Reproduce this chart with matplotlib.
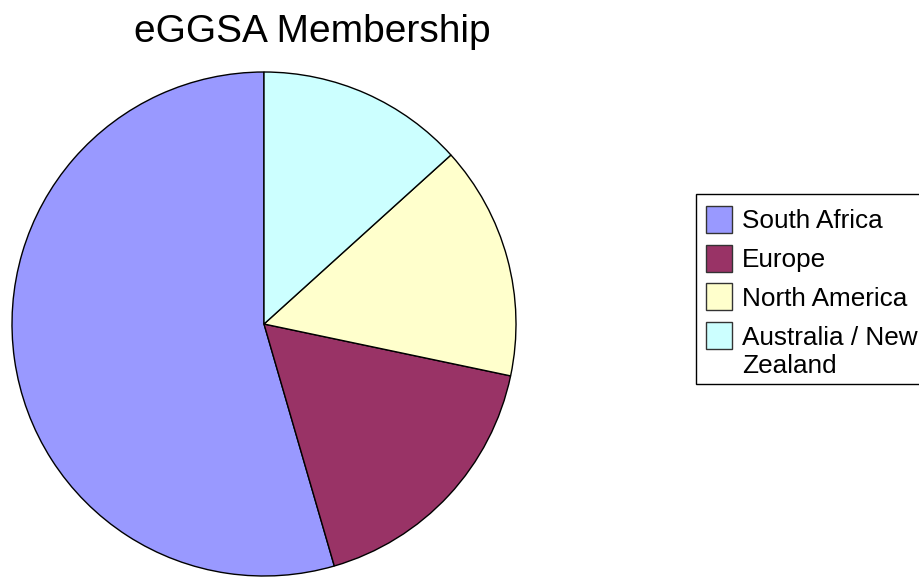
"""eGGSA 회원 분포 파이 차트 (Excel 스타일) → out.png"""
import matplotlib
matplotlib.use("Agg")
import matplotlib.pyplot as plt
from matplotlib.patches import Rectangle

# 지역별 회원 비율(%) — 그림에서 각도로 읽은 값
regions = ["South Africa", "Europe", "North America", "Australia / New\nZealand"]
shares = [54.5, 17.2, 15.0, 13.3]
colors = ["#9999FF", "#993366", "#FFFFCC", "#CCFFFF"]
title = "eGGSA Membership"

W, H = 920, 577
plt.rcParams["font.family"] = ["Liberation Sans", "DejaVu Sans"]

fig = plt.figure(figsize=(W / 100, H / 100), dpi=100)


def fx(px):
    return px / W


def fy(py):
    # 위쪽 기준 픽셀 → figure 비율
    return 1 - py / H


# 파이: 중심 (264, 324), 반지름 252 px
cx, cy, r = 264, 324, 252
ax = fig.add_axes([fx(cx - r), fy(cy + r), 2 * r / W, 2 * r / H])
ax.pie(shares, colors=colors, startangle=90, counterclock=True,
       wedgeprops=dict(edgecolor="black", linewidth=1.0))
ax.set_xlim(-1, 1)
ax.set_ylim(-1, 1)
ax.set_aspect("equal")
ax.axis("off")
for p in ax.patches:
    p.set_clip_on(False)

fig.text(fx(312), fy(42), title, ha="center", va="baseline", fontsize=28)

# 범례 (수동 배치, 오른쪽은 그림 밖으로 잘림)
box_l, box_t, box_b = 696, 194, 384
fig.patches.append(Rectangle((fx(box_l), fy(box_b)), fx(300), (box_b - box_t) / H,
                             transform=fig.transFigure, facecolor="white",
                             edgecolor="black", linewidth=1.0))
sw_x, sw_w, sw_h = 706, 26, 27
first_top, pitch = 206, 38.6
line_px = 28.6   # 줄바꿈 간격(px)
for i, (lab, col) in enumerate(zip(regions, colors)):
    top = first_top + i * pitch
    fig.patches.append(Rectangle((fx(sw_x), fy(top + sw_h)), sw_w / W, sw_h / H,
                                 transform=fig.transFigure, facecolor=col,
                                 edgecolor="#333333", linewidth=1.0))
    # baseline 정렬은 마지막 줄 기준 → 줄 수만큼 내림
    base = top + sw_h / 2 + 9 + lab.count("\n") * line_px
    fig.text(fx(742), fy(base), lab, ha="left", va="baseline",
             fontsize=18.8, linespacing=1.2)

fig.savefig("out.png", dpi=100)
